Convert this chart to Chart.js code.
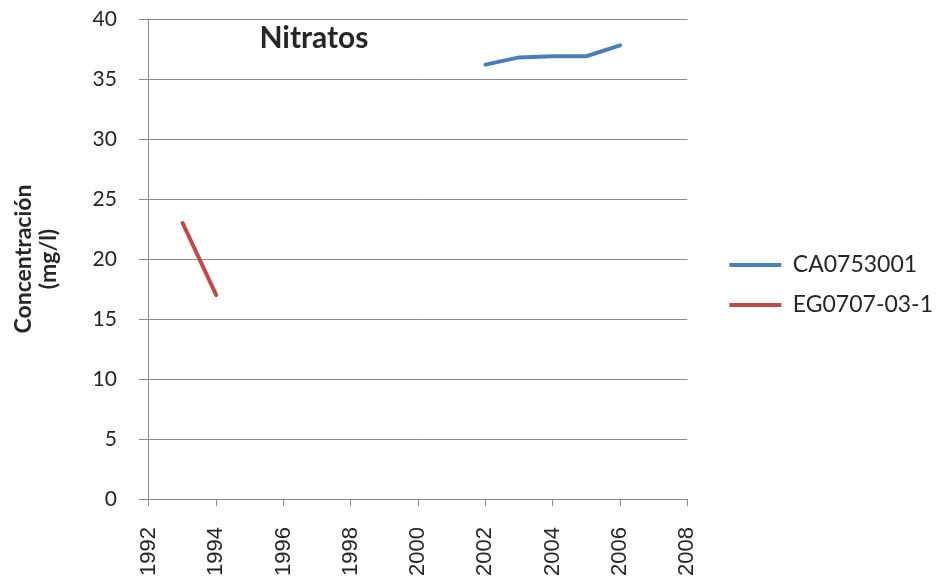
<!DOCTYPE html>
<html>
<head>
<meta charset="utf-8">
<script src="https://cdn.jsdelivr.net/npm/chart.js@4/dist/chart.umd.min.js"></script>
<style>
    html, body { margin: 0; padding: 0; background: #fff; }
    #wrap { position: relative; width: 940px; height: 583px; }
</style>
</head>
<body>
<div id="wrap"><canvas id="nitratos"></canvas></div>
<script>
// Series de nitratos por punto de control
const anosCA = [2002, 2003, 2004, 2005, 2006];
const valoresCA = [36.2, 36.8, 36.9, 36.9, 37.8];
const anosEG = [1993, 1994];
const valoresEG = [23, 17];
const nombresSeries = ['CA0753001', 'EG0707-03-1'];
const tituloGrafico = 'Nitratos';
const tituloEjeY = ['Concentración', '(mg/l)'];

const gris = '#8c8c8c';
const texto = '#262626';

function puntos(xs, ys) {
    return xs.map((x, i) => ({ x: x, y: ys[i] }));
}

// Título dentro del área de trazado
const tituloInterior = {
    id: 'tituloInterior',
    afterDraw(chart) {
        const { ctx, chartArea } = chart;
        ctx.save();
        ctx.font = 'bold 30px Lato';
        ctx.fillStyle = texto;
        ctx.textAlign = 'center';
        ctx.textBaseline = 'middle';
        ctx.fillText(tituloGrafico, chartArea.left + 165, chartArea.top + 19);
        ctx.restore();
    }
};

// Separa la leyenda del área de trazado y la sube un poco
const EXTRA = 18;
const DESPLAZAR = 25;
const SUBIR = 16;
const separarLeyenda = {
    id: 'separarLeyenda',
    beforeInit(chart) {
        const fit = chart.legend.fit;
        chart.legend.fit = function () {
            fit.call(this);
            this.width += EXTRA;
        };
    },
    afterLayout(chart) {
        const lg = chart.legend;
        lg.left += DESPLAZAR;
        lg.right += DESPLAZAR;
        lg.top -= SUBIR;
        lg.bottom -= SUBIR;
    }
};

new Chart(document.getElementById('nitratos'), {
    type: 'line',
    data: {
        datasets: [{
            label: nombresSeries[0],
            data: puntos(anosCA, valoresCA),
            borderColor: '#4a7ebb',
            backgroundColor: '#4a7ebb',
            borderWidth: 4,
            borderCapStyle: 'round',
            pointRadius: 0,
            tension: 0
        }, {
            label: nombresSeries[1],
            data: puntos(anosEG, valoresEG),
            borderColor: '#be4b48',
            backgroundColor: '#be4b48',
            borderWidth: 4,
            borderCapStyle: 'round',
            pointRadius: 0,
            tension: 0
        }]
    },
    options: {
        responsive: true,
        maintainAspectRatio: false,
        animation: false,
        layout: { padding: { top: 19, right: 4, bottom: 0, left: 11 } },
        plugins: {
            tooltip: { enabled: false },
            legend: {
                position: 'right',
                labels: {
                    usePointStyle: true,
                    pointStyle: 'line',
                    pointStyleWidth: 52,
                    color: texto,
                    padding: 17,
                    font: { family: 'Lato', size: 23 }
                }
            }
        },
        scales: {
            x: {
                type: 'linear',
                min: 1992,
                max: 2008,
                afterFit(scale) {
                    // las etiquetas pueden llegar casi al borde inferior
                    scale.height -= 14;
                },
                ticks: {
                    stepSize: 2,
                    minRotation: 90,
                    maxRotation: 90,
                    padding: 21,
                    color: texto,
                    font: { family: 'Liberation Sans', size: 22 },
                    callback: v => String(v)
                },
                grid: { drawOnChartArea: false, drawTicks: true, tickLength: 7, color: gris },
                border: { color: gris, width: 1 }
            },
            y: {
                min: 0,
                max: 40,
                ticks: {
                    stepSize: 5,
                    padding: 2,
                    color: texto,
                    font: { family: 'Lato', size: 21 }
                },
                // marca corta junto al eje: solo se ve el último tramo del tick
                grid: {
                    color: gris,
                    tickLength: 30,
                    tickBorderDash: [10, 20],
                    tickBorderDashOffset: 10
                },
                border: { color: gris, width: 1 },
                title: {
                    display: true,
                    text: tituloEjeY,
                    color: texto,
                    padding: { top: 0, bottom: 29 },
                    font: { family: 'Lato', size: 23, weight: 'bold', lineHeight: 1.1 }
                }
            }
        }
    },
    plugins: [tituloInterior, separarLeyenda]
});
</script>
</body>
</html>
